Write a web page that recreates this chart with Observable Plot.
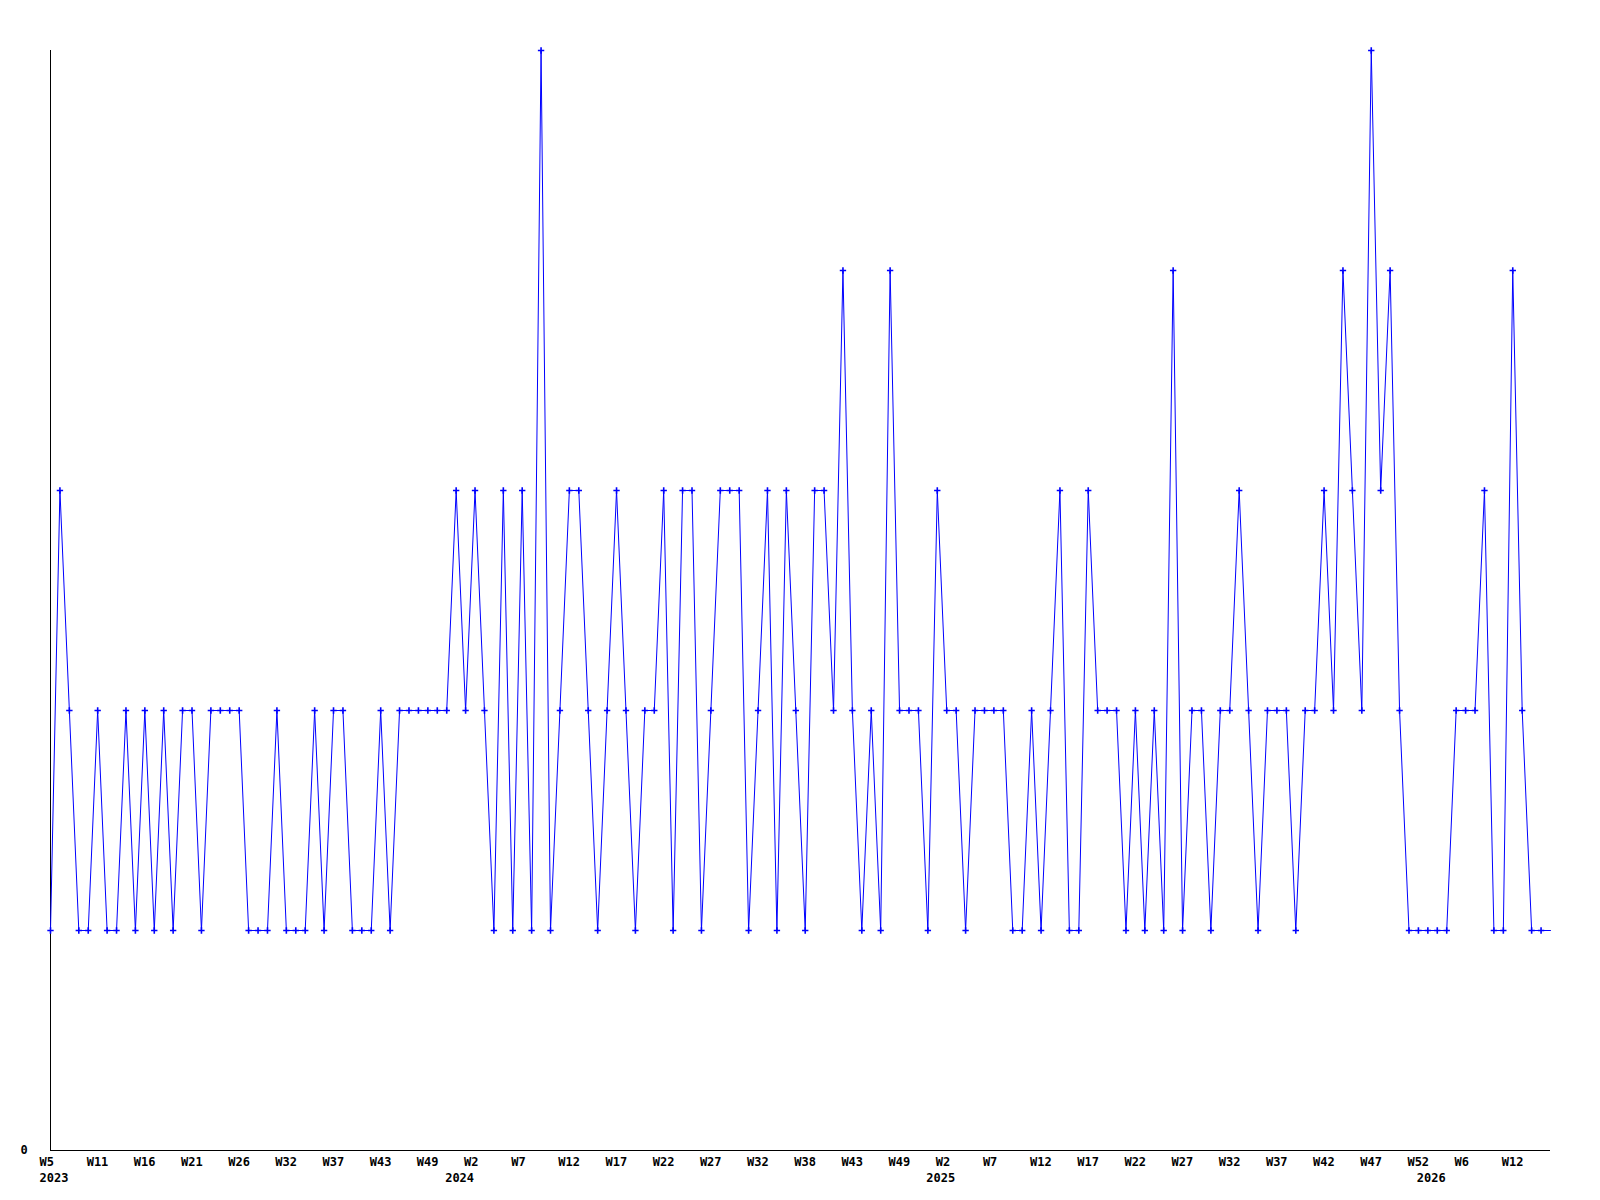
<!DOCTYPE html>
<html>
<head>
<meta charset="utf-8">
<script src="https://cdn.jsdelivr.net/npm/d3@7"></script>
<script src="https://cdn.jsdelivr.net/npm/@observablehq/plot@0.6"></script>
<style>
  html, body { margin: 0; padding: 0; background: #fff; }
  #chart svg { display: block; }
</style>
</head>
<body>
<div id="chart"></div>
<script>
// Series values (one per sample, in order)
const values = [
  1,3,2,1,1,2,1,1,2,1,2,1,2,1,2,2,1,2,2,2,2,1,1,1,2,1,1,1,2,1,2,2,1,1,1,2,1,2,2,2,2,2,2,
  3,2,3,2,1,3,1,3,1,5,1,
  2,3,3,2,1,2,3,2,1,2,2,3,1,3,3,1,2,3,3,3,1,2,3,1,3,2,
  1,3,3,2,4,2,1,2,1,4,2,2,2,1,3,2,2,1,2,2,2,2,1,1,2,1,2,
  3,1,1,3,2,2,2,1,2,1,2,1,4,1,2,2,1,2,2,3,2,1,2,2,2,1,
  2,2,3,2,4,3,2,5,3,4,2,1,1,1,1,1,2,2,2,3,1,1,4,2,1,1,1
];

// Week tick labels (every 5th sample)
const tickIndex = [0,5,10,15,20,25,30,35,40,45,50,55,60,65,70,75,80,85,90,95,100,105,110,115,120,125,130,135,140,145,150,155];
const tickLabel = ["W5","W11","W16","W21","W26","W32","W37","W43","W49","W2","W7","W12","W17","W22","W27","W32","W38","W43","W49","W2","W7","W12","W17","W22","W27","W32","W37","W42","W47","W52","W6","W12"];

// Year labels (first sample of each year)
const yearIndex = [0, 43, 94, 146];
const yearLabel = ["2023", "2024", "2025", "2026"];

const data = values.map((v, i) => ({i, v}));
const ticks = tickIndex.map((i, k) => ({i, label: tickLabel[k]}));
const years = yearIndex.map((i, k) => ({i, label: yearLabel[k]}));

const chart = Plot.plot({
  width: 1600,
  height: 1200,
  marginLeft: 50,
  marginRight: 50,
  marginTop: 50,
  marginBottom: 50,
  style: {fontFamily: "'DejaVu Sans Mono', monospace", fontWeight: "bold", fontSize: "12px", background: "#fff", color: "#000"},
  x: {domain: [0, values.length - 1], axis: null},
  y: {domain: [0, 5], axis: null},
  marks: [
    Plot.ruleX([0], {stroke: "#000", strokeWidth: 1}),
    Plot.ruleY([0], {stroke: "#000", strokeWidth: 1}),
    Plot.line(data, {x: "i", y: "v", stroke: "#0000ff", strokeWidth: 1}),
    Plot.dot(data.slice(0, -1), {x: "i", y: "v", symbol: "plus", r: 2.2, stroke: "#0000ff", strokeWidth: 1.6}),
    Plot.text(ticks, {x: "i", frameAnchor: "bottom", text: "label", textAnchor: "start", lineAnchor: "middle", dx: -11, dy: 12, fill: "#000"}),
    Plot.text(years, {x: "i", frameAnchor: "bottom", text: "label", textAnchor: "start", lineAnchor: "middle", dx: -11, dy: 27.5, fill: "#000"}),
    Plot.text(["0"], {y: 0, frameAnchor: "left", text: d => d, textAnchor: "start", lineAnchor: "middle", dx: -30, dy: 0, fill: "#000"})
  ]
});
document.getElementById("chart").appendChild(chart);
</script>
</body>
</html>
